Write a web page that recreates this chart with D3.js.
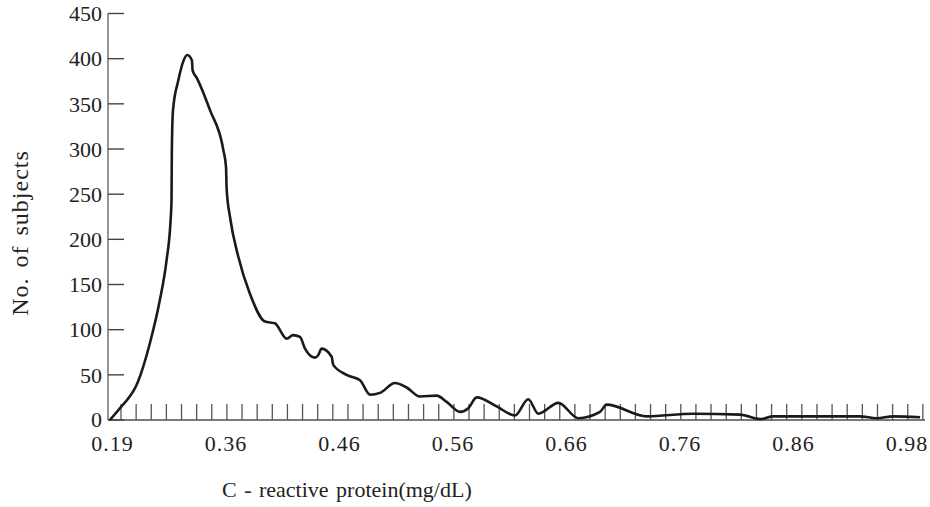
<!DOCTYPE html>
<html>
<head>
<meta charset="utf-8">
<script src="https://cdn.jsdelivr.net/npm/d3@7"></script>
<style>
  body { margin: 0; background: #fff; }
  text { font-family: "Liberation Serif", "DejaVu Serif", serif; fill: #222; }
</style>
</head>
<body>
<svg id="chart" width="930" height="507"></svg>
<script>
// x tick labels (evenly spaced on the printed axis)
const xTicks = [0.19, 0.36, 0.46, 0.56, 0.66, 0.76, 0.86, 0.98]
const yTicks = [0, 50, 100, 150, 200, 250, 300, 350, 400, 450]

// CRP value (mg/dL) and number of subjects
const crp = [0.186, 0.201, 0.228, 0.246, 0.261, 0.271, 0.277, 0.2784, 0.2789, 0.2806,
  0.2886, 0.296, 0.302, 0.309, 0.310, 0.316, 0.336, 0.356, 0.360, 0.3606,
  0.3635, 0.3708, 0.381, 0.3944, 0.403, 0.4135, 0.419, 0.4252, 0.4296, 0.4384,
  0.4413, 0.4443, 0.4531, 0.4545, 0.4663, 0.4781, 0.4869, 0.4957, 0.5089, 0.5192,
  0.5309, 0.5456, 0.5544, 0.5662, 0.5735, 0.5809, 0.5985, 0.6146, 0.6263, 0.6352,
  0.6528, 0.6704, 0.6895, 0.6954, 0.7307, 0.7717, 0.8129, 0.8305, 0.8422, 0.9303,
  0.948, 0.9655, 0.9938]
const subjects = [0, 13, 42, 85, 133, 177, 221, 243, 299, 343,
  376, 397, 404, 398, 387, 379, 343, 299, 280, 255,
  225, 181, 140, 109, 107, 90, 94, 92, 79, 69,
  72, 79, 70, 61, 50, 44, 28, 30, 41, 36,
  26, 27, 20, 9, 13, 25, 15, 5, 23, 7,
  19, 2, 9, 17, 4, 7, 6, 1, 4, 4,
  2, 4, 3]

const svg = d3.select("#chart")
const margin = { left: 108, right: 9, top: 13.5, bottom: 87 }
const width = 930 - margin.left - margin.right
const height = 507 - margin.top - margin.bottom

// labels sit at equal steps, so map each label to its own slot
const x0 = 112.5, step = 113.5
const x = d3.scaleLinear()
  .domain(xTicks)
  .range(xTicks.map((d, i) => x0 + i * step))

const y = d3.scaleLinear()
  .domain([0, 450])
  .range([margin.top + height, margin.top])

const axisColor = "#7a7a7a"
const yBase = y(0)

// y axis line
svg.append("line")
  .attr("x1", margin.left).attr("x2", margin.left)
  .attr("y1", y(450)).attr("y2", yBase)
  .attr("stroke", axisColor).attr("stroke-width", 1.6)

// x axis line
svg.append("line")
  .attr("x1", margin.left).attr("x2", margin.left + width + 4)
  .attr("y1", yBase).attr("y2", yBase)
  .attr("stroke", axisColor).attr("stroke-width", 2)

// y ticks + labels
svg.selectAll(".ytick").data(yTicks)
  .enter().append("line")
    .attr("x1", margin.left).attr("x2", margin.left + 16)
    .attr("y1", d => y(d)).attr("y2", d => y(d))
    .attr("stroke", "#444").attr("stroke-width", 1.4)

svg.selectAll(".ylab").data(yTicks)
  .enter().append("text")
    .attr("x", margin.left - 6)
    .attr("y", d => d === 0 ? y(d) - 1 : y(d))
    .attr("dy", "0.35em")
    .attr("text-anchor", "end")
    .style("font-size", "22px")
    .text(d => d)

// rug of small ticks along the x axis
const nRug = 54
const rugStep = (width + 4) / nRug
svg.selectAll(".rug").data(d3.range(nRug))
  .enter().append("line")
    .attr("x1", d => margin.left + 13 + d * rugStep)
    .attr("x2", d => margin.left + 13 + d * rugStep)
    .attr("y1", yBase - 16).attr("y2", yBase)
    .attr("stroke", "#555").attr("stroke-width", 1.3)

// x labels
svg.selectAll(".xlab").data(xTicks)
  .enter().append("text")
    .attr("x", d => x(d))
    .attr("y", yBase + 31)
    .attr("text-anchor", "middle")
    .style("font-size", "22px")
    .style("letter-spacing", "1px")
    .text(d => d.toFixed(2))

// curve
const pts = crp.map((c, i) => [c, subjects[i]])
const line = d3.line()
  .x(d => x(d[0]))
  .y(d => y(d[1]))
  .curve(d3.curveMonotoneX)

svg.append("path")
  .datum(pts)
  .attr("d", line)
  .attr("fill", "none")
  .attr("stroke", "#1a1a1a")
  .attr("stroke-width", 2.6)
  .attr("stroke-linejoin", "round")

// titles
svg.append("text")
  .attr("x", 222)
  .attr("y", 497)
  .style("font-size", "22px")
  .style("word-spacing", "2px")
  .text("C - reactive protein(mg/dL)")

svg.append("text")
  .attr("transform", "translate(28,233) rotate(-90)")
  .attr("text-anchor", "middle")
  .style("font-size", "24px")
  .style("letter-spacing", "1px")
  .style("word-spacing", "3px")
  .text("No. of subjects")
</script>
</body>
</html>
